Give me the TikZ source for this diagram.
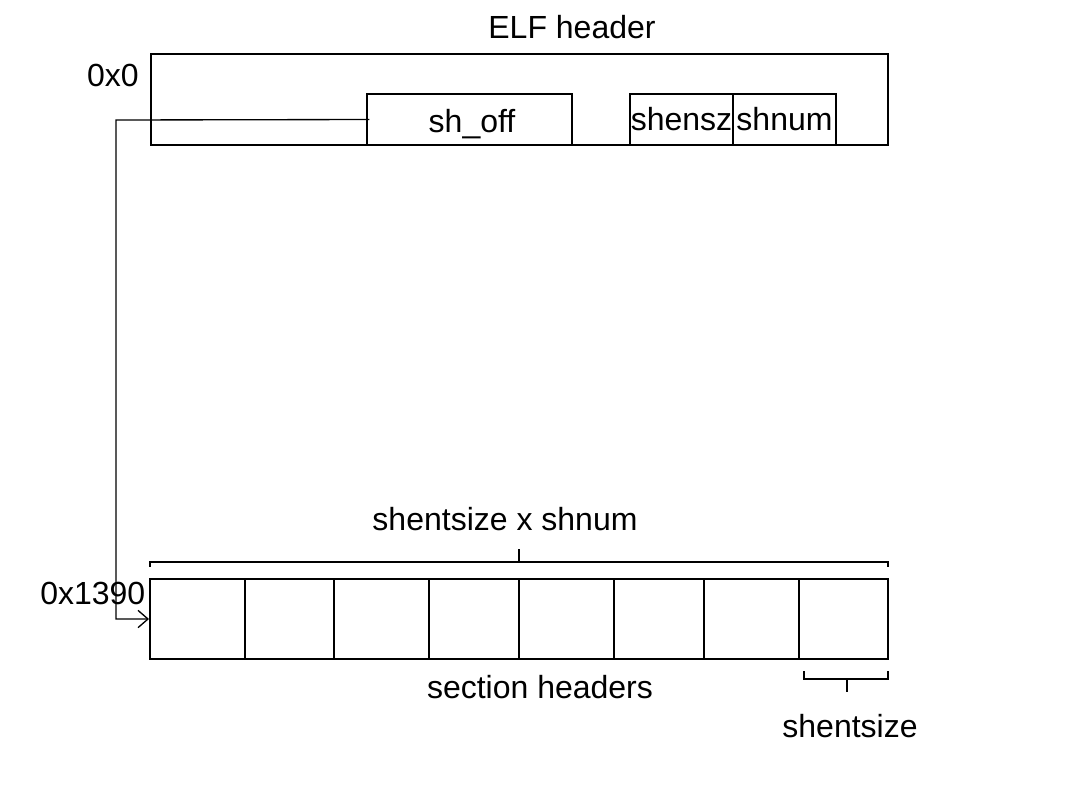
\documentclass[tikz,border=0pt]{standalone}
\usepackage{fontspec}
\setmainfont{Liberation Sans}
\usetikzlibrary{arrows.meta}

\begin{document}
\begin{tikzpicture}[x=0.75pt, y=-0.75pt,
  every node/.style={font=\fontsize{24}{28}\selectfont},
  field/.style={draw, line width=1.5pt, inner sep=0, minimum height=38.25pt},
  cell/.style={draw, line width=1.5pt, inner sep=0, minimum height=60pt},
  conn/.style={line width=1pt, -{Straight Barb[length=7.5pt, width=13pt]}},
  brace/.style={line width=1pt}]
  \useasboundingbox (0,0) rectangle (1066,786);

  % ELF header
  \node[draw, line width=1.5pt, inner sep=0, minimum width=552.75pt,
    minimum height=68.25pt] (elf) at (519.5,99.5) {};
  \node (elflabel) at (572,27) {ELF header};
  \node (zero) at (113,75) {0x0};
  \node[field, minimum width=153.75pt] (shoff) at (469.5,119.5) {};
  \node (shofflabel) at (472,124) {sh\_off};
  \node[field, minimum width=77.25pt] (shensz) at (681.5,119.5) {shensz};
  \node[field, minimum width=77.25pt] (shnum) at (784.5,119.5) {shnum};

  % section headers
  \foreach \a/\b [count=\i] in {150/245, 245/334, 334/429, 429/519,
      519/614, 614/704, 704/799, 799/888}
    \node[cell, minimum width={(\b-\a)*0.75pt}] (c\i) at ({(\a+\b)/2},619) {};
  \node (addr) [anchor=east] at (150,593) {0x1390};
  \node (total) at (505,519) {shentsize x shnum};
  \node (sect) at (540,687) {section headers};
  \node (one) at (850,726) {shentsize};

  % brackets
  \draw[brace] (150,567) -- (150,562) -- (888,562) -- (888,567);
  \draw[brace] (519,562) -- (519,549);
  \draw[brace] (804,671) -- (804,679) -- (888,679) -- (888,671);
  \draw[brace] (847,679) -- (847,692);

  % offset pointer
  \coordinate (bend) at (116,120);
  \draw[conn] ([xshift=2.5pt]shoff.west) -- (bend) |- (c1.west);
\end{tikzpicture}
\end{document}
